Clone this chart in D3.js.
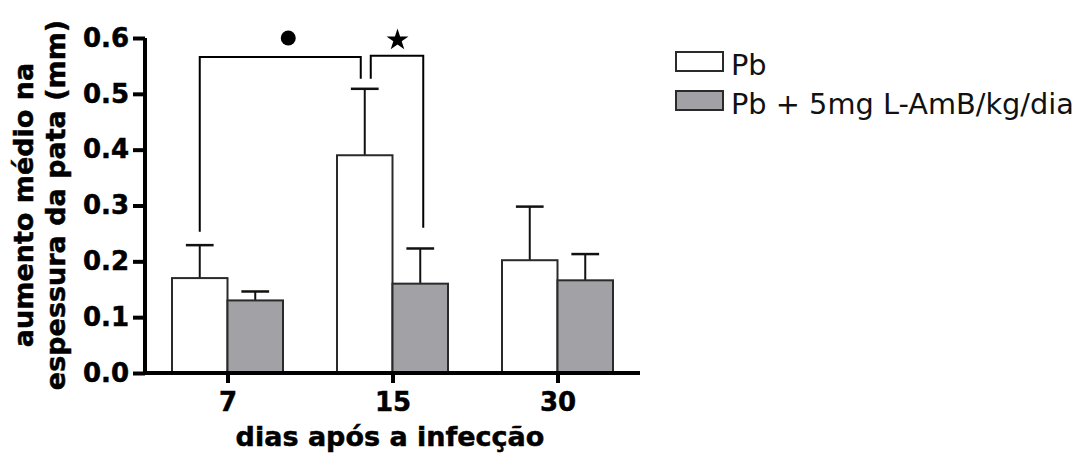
<!DOCTYPE html>
<html>
<head>
<meta charset="utf-8">
<script src="https://cdn.jsdelivr.net/npm/d3@7"></script>
<style>
  html, body { margin: 0; padding: 0; background: #fff; }
  svg { display: block; font-family: "DejaVu Sans", Verdana, sans-serif; }
  .heavy { stroke: #000; stroke-width: 0.5px; paint-order: stroke; }
</style>
</head>
<body>
<svg id="chart" width="1083" height="459"></svg>
<script>
// Days after infection (x categories)
const days = ["7", "15", "30"];
// Mean increase in paw thickness (mm) and the upper error (mean + SD)
const pbMean = [0.17, 0.39, 0.202];
const pbErr  = [0.229, 0.509, 0.298];
const ambMean = [0.13, 0.16, 0.166];
const ambErr  = [0.146, 0.223, 0.213];
const seriesNames = ["Pb", "Pb + 5mg L-AmB/kg/dia"];
const seriesFill = ["#ffffff", "#a2a1a6"];
const yTicks = [0, 0.1, 0.2, 0.3, 0.4, 0.5, 0.6];

const svg = d3.select("#chart");

const x = d3.scalePoint().domain(days).range([145, 640]).padding(0.5);
const y = d3.scaleLinear().domain([0, 0.6]).range([373, 38]);
const barW = 55.5;

// Bars: Pb on the left of each tick, treated group on the right
const series = [
  { mean: pbMean, err: pbErr, off: -barW, fill: seriesFill[0] },
  { mean: ambMean, err: ambErr, off: 0, fill: seriesFill[1] }
];

const gBars = svg.append("g");
series.forEach(s => {
  // error bars (upper only) drawn first so the bar outline sits over them
  days.forEach((d, i) => {
    const cx = x(d) + s.off + barW / 2;
    gBars.append("line")
      .attr("x1", cx).attr("x2", cx)
      .attr("y1", y(s.mean[i])).attr("y2", y(s.err[i]))
      .attr("stroke", "#111").attr("stroke-width", 2);
    gBars.append("line")
      .attr("x1", cx - barW / 4).attr("x2", cx + barW / 4)
      .attr("y1", y(s.err[i])).attr("y2", y(s.err[i]))
      .attr("stroke", "#111").attr("stroke-width", 2.5);
  });
  gBars.selectAll(null).data(days).enter().append("rect")
    .attr("x", d => x(d) + s.off)
    .attr("y", (d, i) => y(s.mean[i]))
    .attr("width", barW)
    .attr("height", (d, i) => y(0) - y(s.mean[i]))
    .attr("fill", s.fill)
    .attr("stroke", "#2a2a2a")
    .attr("stroke-width", 2);
});

// Axes
const yAxis = d3.axisLeft(y).tickValues(yTicks).tickFormat(d3.format(".1f"))
  .tickSize(12).tickPadding(4);
const gy = svg.append("g").attr("transform", "translate(145,0)").call(yAxis);
gy.select(".domain").attr("d", `M0,${y(0.6)}V${y(0) + 2}`)
  .attr("stroke", "#000").attr("stroke-width", 4);
gy.selectAll(".tick line").attr("stroke", "#000").attr("stroke-width", 4);
gy.selectAll(".tick text")
  .attr("class", "heavy")
  .attr("font-family", "DejaVu Sans").attr("font-weight", "bold")
  .attr("font-size", 26).attr("fill", "#000");

const xAxis = d3.axisBottom(x).tickSize(10).tickPadding(10);
const gx = svg.append("g").attr("transform", `translate(0,${y(0)})`).call(xAxis);
gx.select(".domain").attr("d", "M143,0H640")
  .attr("stroke", "#000").attr("stroke-width", 4);
gx.selectAll(".tick line").attr("stroke", "#000").attr("stroke-width", 4);
gx.selectAll(".tick text")
  .attr("class", "heavy")
  .attr("font-family", "DejaVu Sans").attr("font-weight", "bold")
  .attr("font-size", 26).attr("fill", "#000");

// Axis titles
svg.append("text")
  .attr("class", "heavy")
  .attr("x", 390).attr("y", 446)
  .attr("text-anchor", "middle")
  .attr("font-weight", "bold").attr("font-size", 27)
  .text("dias após a infecção");

const yTitle = svg.append("text")
  .attr("class", "heavy")
  .attr("transform", "translate(0,205) rotate(-90)")
  .attr("text-anchor", "middle")
  .attr("font-weight", "bold").attr("font-size", 27);
yTitle.append("tspan").attr("x", 0).attr("y", 33).text("aumento médio na");
yTitle.append("tspan").attr("x", 0).attr("y", 65).text("espessura da pata (mm)");

// Significance brackets
const gSig = svg.append("g").attr("fill", "none").attr("stroke", "#000").attr("stroke-width", 2);
const c7 = x("7") - barW / 2;
const c15w = x("15") - barW / 2;
const c15g = x("15") + barW / 2;
gSig.append("path").attr("d",
  `M${c7},${y(0.253)}V${y(0.566)}H${c15w - 4}V${y(0.527)}`);
gSig.append("path").attr("d",
  `M${c15w + 6},${y(0.527)}V${y(0.568)}H${c15g + 3}V${y(0.26)}`);

svg.append("circle").attr("cx", (c7 + c15w) / 2 + 6).attr("cy", 38).attr("r", 7.5).attr("fill", "#000");
svg.append("path")
  .attr("d", d3.symbol().type(d3.symbolStar).size(150)())
  .attr("transform", `translate(${(c15w + c15g) / 2 + 5},40)`)
  .attr("fill", "#000");

// Legend
const legend = svg.append("g");
seriesNames.forEach((name, i) => {
  const yy = 52 + i * 39;
  legend.append("rect")
    .attr("x", 676).attr("y", yy).attr("width", 47).attr("height", 19)
    .attr("fill", seriesFill[i]).attr("stroke", "#2a2a2a").attr("stroke-width", 2);
  legend.append("text")
    .attr("x", 731).attr("y", yy + 23)
    .attr("font-size", 28.8).attr("fill", "#111")
    .text(name);
});
</script>
</body>
</html>
